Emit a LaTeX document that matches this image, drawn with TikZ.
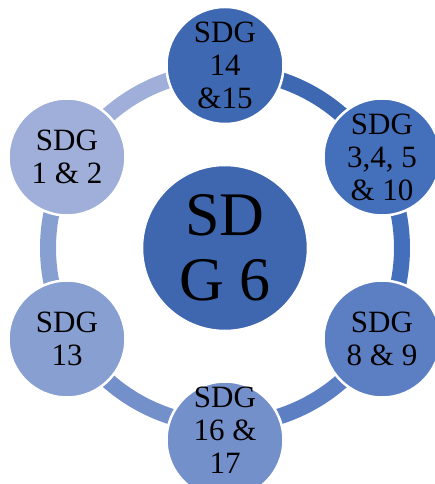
\documentclass[tikz,border=0pt]{standalone}
\usepackage{fontspec}
\setmainfont{Liberation Serif}
\usepackage{tikz}
\definecolor{sdgA}{RGB}{62,104,177}
\definecolor{sdgB}{RGB}{68,111,186}
\definecolor{sdgC}{RGB}{92,127,196}
\definecolor{sdgD}{RGB}{116,144,203}
\definecolor{sdgE}{RGB}{136,159,210}
\definecolor{sdgF}{RGB}{159,175,217}
\definecolor{sdgHub}{RGB}{62,103,176}
\tikzset{
   hub/.style={circle, fill=sdgHub, draw=white, line width=2.5pt, minimum size=166pt,
               inner sep=0pt, align=center, font=\fontsize{62}{65}\selectfont},
   goal/.style={circle, draw=white, line width=2.5pt, minimum size=117pt,
               inner sep=0pt, align=center, font=\fontsize{31}{33}\selectfont},
   goaltext/.style={inner sep=0pt, align=center, font=\fontsize{31}{33}\selectfont},
   ring/.style={line width=16pt}
}

\begin{document}
\begin{tikzpicture}[x=1pt,y=1pt]
\useasboundingbox (0,0) rectangle (435,484);
\coordinate (o) at (225,236);
% ring pieces, each one in the colour of the goal it leaves from
\foreach \S/\E/\C in {90/30/sdgA,30/-30/sdgB,-30/-90/sdgC,-90/-150/sdgD,-150/-210/sdgE,150/90/sdgF}{
  \draw[ring, draw=\C] (o) ++(\S:177) arc (\S:\E:177);
}
\node[hub] (hub) at (o) {SD\\G 6};
\node[goal, fill=sdgA] (g14) at (225,418.5) {SDG\\14\\\&15};
\node[goal, fill=sdgB] (g3) at (382,327) {SDG\\3,4, 5\\\& 10};
\node[goal, fill=sdgC] (g8) at (382,145) {SDG\\8 \& 9};
\node[goal, fill=sdgD] (g16) at (225,44) {};
\node[goaltext] (g16t) at ([yshift=10pt]g16.center) {SDG\\16 \&\\17};
\node[goal, fill=sdgE] (g13) at (67,145) {SDG\\13};
\node[goal, fill=sdgF] (g1) at (67,327) {SDG\\1 \& 2};
\end{tikzpicture}
\end{document}
